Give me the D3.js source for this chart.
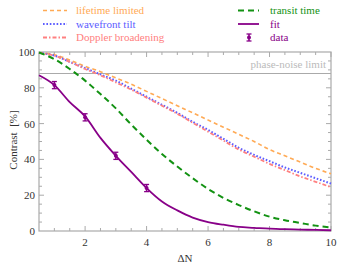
<!DOCTYPE html>
<html>
<head>
<meta charset="utf-8">
<style>
  body { margin: 0; background: #fff; }
  text { font-family: "Liberation Serif", "DejaVu Serif", serif; }
</style>
</head>
<body>
<svg id="chart" width="339" height="267"></svg>
<script src="https://cdn.jsdelivr.net/npm/d3@7/dist/d3.min.js"></script>
<script>
// curves, x = delta N
var xs = [0.5, 1, 1.5, 2, 2.5, 3, 3.5, 4, 4.5, 5, 5.5, 6, 6.5, 7, 7.5, 8, 8.5, 9, 9.5, 10];
var lifetime = [99.5, 98.5, 95.5, 92, 89, 85.5, 82, 78, 74, 70, 66, 62, 58, 54, 50, 45.5, 42, 38.5, 35, 32];
var wavefront = [99.5, 98, 94.5, 91, 87.5, 84, 79.5, 75, 70.5, 66, 61, 56.5, 51.5, 46.5, 42.5, 39, 35.5, 32.5, 29.5, 26.5];
var doppler = [99.5, 98, 94.5, 90.5, 87, 83, 79, 74.5, 70, 65.5, 60.5, 55.5, 50.5, 45.5, 41.5, 37.5, 34, 30.5, 27.5, 24.5];
var transit = [99.7, 96, 90.5, 84, 76.5, 68.5, 59.5, 51, 43, 36, 29.5, 23.5, 18.5, 14.5, 11, 8, 6, 4.5, 3, 2];
var fit = [87, 81.5, 72, 64, 52, 42, 33, 24, 16.5, 11.5, 7.5, 5, 3.5, 2.3, 1.8, 1.3, 1, 0.8, 0.6, 0.4];

var dataX = [1, 2, 3, 4];
var dataY = [81.5, 63.5, 42, 24];
var dataErr = [2, 2, 2, 2];

var phaseNoise = 88;
var xTicks = [2, 4, 6, 8, 10];
var yTicks = [0, 20, 40, 60, 80, 100];

var svg = d3.select("#chart");
var pLeft = 39, pRight = 331, pTop = 52, pBottom = 231;

var x = d3.scaleLinear().domain([0.5, 10]).range([pLeft, pRight]);
var y = d3.scaleLinear().domain([0, 100]).range([pBottom, pTop]);

var frameColor = "#aaa";

// minor ticks on all four sides
var minorX = d3.range(1, 10.01, 0.5);
var minorY = d3.range(5, 100, 5);
var g = svg.append("g").attr("stroke", frameColor).attr("stroke-width", 1);

minorX.forEach(function(v) {
  var len = xTicks.indexOf(v) >= 0 ? 5 : 3;
  g.append("line").attr("x1", x(v)).attr("x2", x(v)).attr("y1", pBottom).attr("y2", pBottom - len);
  g.append("line").attr("x1", x(v)).attr("x2", x(v)).attr("y1", pTop).attr("y2", pTop + len);
});
minorY.forEach(function(v) {
  var len = yTicks.indexOf(v) >= 0 ? 5 : 3;
  g.append("line").attr("y1", y(v)).attr("y2", y(v)).attr("x1", pLeft).attr("x2", pLeft + len);
  g.append("line").attr("y1", y(v)).attr("y2", y(v)).attr("x1", pRight).attr("x2", pRight - len);
});

// frame
svg.append("rect")
  .attr("x", pLeft).attr("y", pTop)
  .attr("width", pRight - pLeft).attr("height", pBottom - pTop)
  .attr("fill", "none").attr("stroke", frameColor).attr("stroke-width", 1.2);

// tick labels
svg.append("g").selectAll("text").data(xTicks).enter().append("text")
  .attr("x", function(d) { return x(d); })
  .attr("y", 246)
  .attr("text-anchor", "middle")
  .attr("font-size", 11)
  .attr("fill", "#333")
  .text(function(d) { return d; });

svg.append("g").selectAll("text").data(yTicks).enter().append("text")
  .attr("x", 35)
  .attr("y", function(d) { return y(d) + 4; })
  .attr("text-anchor", "end")
  .attr("font-size", 11)
  .attr("fill", "#333")
  .text(function(d) { return d; });

// axis labels
svg.append("text")
  .attr("x", 185).attr("y", 262)
  .attr("text-anchor", "middle").attr("font-size", 11).attr("fill", "#333")
  .text("\u0394N");

svg.append("text")
  .attr("transform", "translate(17,140) rotate(-90)")
  .attr("text-anchor", "middle").attr("font-size", 11).attr("fill", "#333")
  .attr("xml:space", "preserve")
  .text("Contrast  [%]");

// phase-noise limit
svg.append("line")
  .attr("x1", pLeft).attr("x2", pRight)
  .attr("y1", y(phaseNoise)).attr("y2", y(phaseNoise))
  .attr("stroke", "#aaa").attr("stroke-width", 1.2);

svg.append("text")
  .attr("x", 326).attr("y", y(phaseNoise) - 5)
  .attr("text-anchor", "end").attr("font-size", 11).attr("fill", "#bbb")
  .text("phase-noise limit");

var line = d3.line()
  .x(function(d) { return x(d[0]); })
  .y(function(d) { return y(d[1]); })
  .curve(d3.curveMonotoneX);

var series = [
  { name: "lifetime limited", vals: lifetime, color: "#ffaa55", dash: "4,3", width: 1.6 },
  { name: "wavefront tilt", vals: wavefront, color: "#5c5cff", dash: "1.6,1.8", width: 2 },
  { name: "Doppler broadening", vals: doppler, color: "#ff8080", dash: "4,2,1.5,2", width: 1.8 },
  { name: "transit time", vals: transit, color: "#139213", dash: "6,4", width: 2 },
  { name: "fit", vals: fit, color: "#880088", dash: null, width: 1.8 }
];

var plot = svg.append("g");
series.forEach(function(s) {
  plot.append("path")
    .datum(xs.map(function(v, i) { return [v, s.vals[i]]; }))
    .attr("d", line)
    .attr("fill", "none")
    .attr("stroke", s.color)
    .attr("stroke-width", s.width)
    .attr("stroke-dasharray", s.dash);
});

// data points with error bars
var pts = plot.selectAll(".pt").data(dataX).enter().append("g").attr("class", "pt");
pts.append("line")
  .attr("x1", function(d) { return x(d); }).attr("x2", function(d) { return x(d); })
  .attr("y1", function(d, i) { return y(dataY[i] - dataErr[i]); })
  .attr("y2", function(d, i) { return y(dataY[i] + dataErr[i]); })
  .attr("stroke", "#880088").attr("stroke-width", 1.5);
[-1, 1].forEach(function(sgn) {
  pts.append("line")
    .attr("x1", function(d) { return x(d) - 2.5; }).attr("x2", function(d) { return x(d) + 2.5; })
    .attr("y1", function(d, i) { return y(dataY[i] + sgn * dataErr[i]); })
    .attr("y2", function(d, i) { return y(dataY[i] + sgn * dataErr[i]); })
    .attr("stroke", "#880088").attr("stroke-width", 1.3);
});
pts.append("circle")
  .attr("cx", function(d) { return x(d); })
  .attr("cy", function(d, i) { return y(dataY[i]); })
  .attr("r", 2).attr("fill", "#880088");

// legend
var leg = svg.append("g");
var legRows = [10.5, 24, 37.5];
series.forEach(function(s, i) {
  var col = i < 3 ? 0 : 1;
  var row = i < 3 ? i : i - 3;
  var x0 = col === 0 ? 43 : 238, x1 = col === 0 ? 67 : 259, tx = col === 0 ? 76 : 270;
  var yy = legRows[row];
  leg.append("line")
    .attr("x1", x0).attr("x2", x1).attr("y1", yy).attr("y2", yy)
    .attr("stroke", s.color).attr("stroke-width", s.width)
    .attr("stroke-dasharray", s.dash);
  leg.append("text")
    .attr("x", tx).attr("y", yy + 3.5)
    .attr("font-size", 11).attr("fill", s.color)
    .text(s.name);
});
// data legend entry
var ly = legRows[2], lx = 249;
leg.append("line").attr("x1", lx).attr("x2", lx).attr("y1", ly - 3.5).attr("y2", ly + 3.5)
  .attr("stroke", "#880088").attr("stroke-width", 1.5);
leg.append("line").attr("x1", lx - 2.5).attr("x2", lx + 2.5).attr("y1", ly - 3.5).attr("y2", ly - 3.5)
  .attr("stroke", "#880088").attr("stroke-width", 1.3);
leg.append("line").attr("x1", lx - 2.5).attr("x2", lx + 2.5).attr("y1", ly + 3.5).attr("y2", ly + 3.5)
  .attr("stroke", "#880088").attr("stroke-width", 1.3);
leg.append("circle").attr("cx", lx).attr("cy", ly).attr("r", 2).attr("fill", "#880088");
leg.append("text").attr("x", 270).attr("y", ly + 3.5).attr("font-size", 11).attr("fill", "#880088").text("data");
</script>
</body>
</html>
